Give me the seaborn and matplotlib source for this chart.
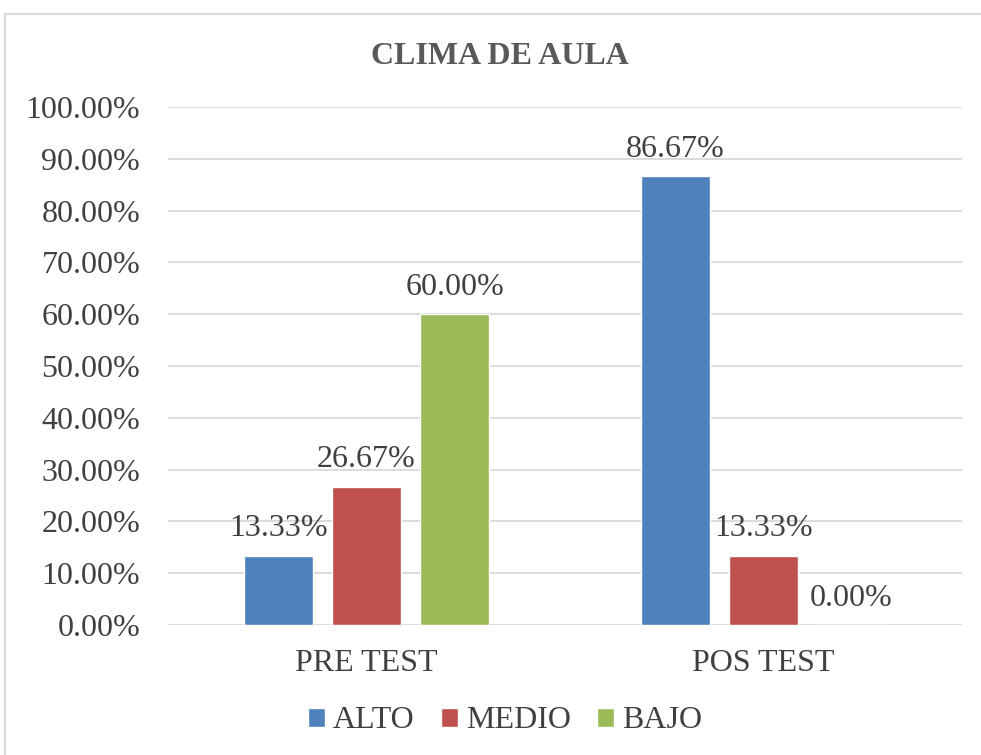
import pandas as pd
import seaborn as sns
import matplotlib.pyplot as plt
from matplotlib.lines import Line2D
from matplotlib.ticker import FuncFormatter, MultipleLocator

# data
groups = ['PRE TEST', 'POS TEST']
levels = ['ALTO', 'MEDIO', 'BAJO']
alto = [13.33, 86.67]
medio = [26.67, 13.33]
bajo = [60.00, 0.00]
colors = ['#4F81BD', '#C0504D', '#9BBB59']

rows = []
for lvl, vals in zip(levels, [alto, medio, bajo]):
    for g, v in zip(groups, vals):
        rows.append({'grupo': g, 'nivel': lvl, 'pct': v})
df = pd.DataFrame(rows)

sns.set_style('white')
plt.rcParams['font.family'] = ['Liberation Serif', 'DejaVu Serif']

fig = plt.figure(figsize=(9.81, 7.55), dpi=100)
ax = fig.add_axes([168/981, 1 - 625/755, (962-168)/981, (625-107)/755])

sns.barplot(data=df, x='grupo', y='pct', hue='nivel', order=groups, hue_order=levels,
            palette=colors, width=0.665, gap=0.216, ax=ax, legend=True, saturation=1)

for c in ax.containers:
    ax.bar_label(c, labels=['{:.2f}%'.format(v) for v in c.datavalues],
                 padding=9, fontsize=23, color='#404040')

ax.set_ylim(0, 100)
ax.yaxis.set_major_locator(MultipleLocator(10))
ax.yaxis.set_major_formatter(FuncFormatter(lambda v, p: '{:.2f}%'.format(v)))
ax.grid(axis='y', color='#D9D9D9', linewidth=1.3)
ax.set_axisbelow(True)
for s in ax.spines.values():
    s.set_visible(False)
ax.tick_params(axis='both', length=0, labelsize=23, labelcolor='#404040')
ax.tick_params(axis='y', pad=20)
ax.tick_params(axis='x', pad=17)
ax.set_xlabel('')
ax.set_ylabel('')

fig.text(500/981, 1 - 56/755, 'CLIMA DE AULA', ha='center', va='center',
         fontsize=23, fontweight='bold', color='#595959')

handles, labels = ax.get_legend_handles_labels()
ax.legend(handles, labels, loc='center', bbox_to_anchor=(505/981, 1 - 721/755),
          bbox_transform=fig.transFigure, ncol=3, frameon=False, fontsize=23,
          handlelength=0.55, handleheight=0.55, handletextpad=0.25, columnspacing=0.8,
          labelcolor='#404040')

# chart frame
fig.add_artist(Line2D([5/981, 1], [1 - 14/755, 1 - 14/755], color='#D9D9D9', lw=1.5,
                      transform=fig.transFigure))
fig.add_artist(Line2D([5/981, 5/981], [0, 1 - 14/755], color='#D9D9D9', lw=1.5,
                      transform=fig.transFigure))

fig.savefig('out.png', dpi=100)
